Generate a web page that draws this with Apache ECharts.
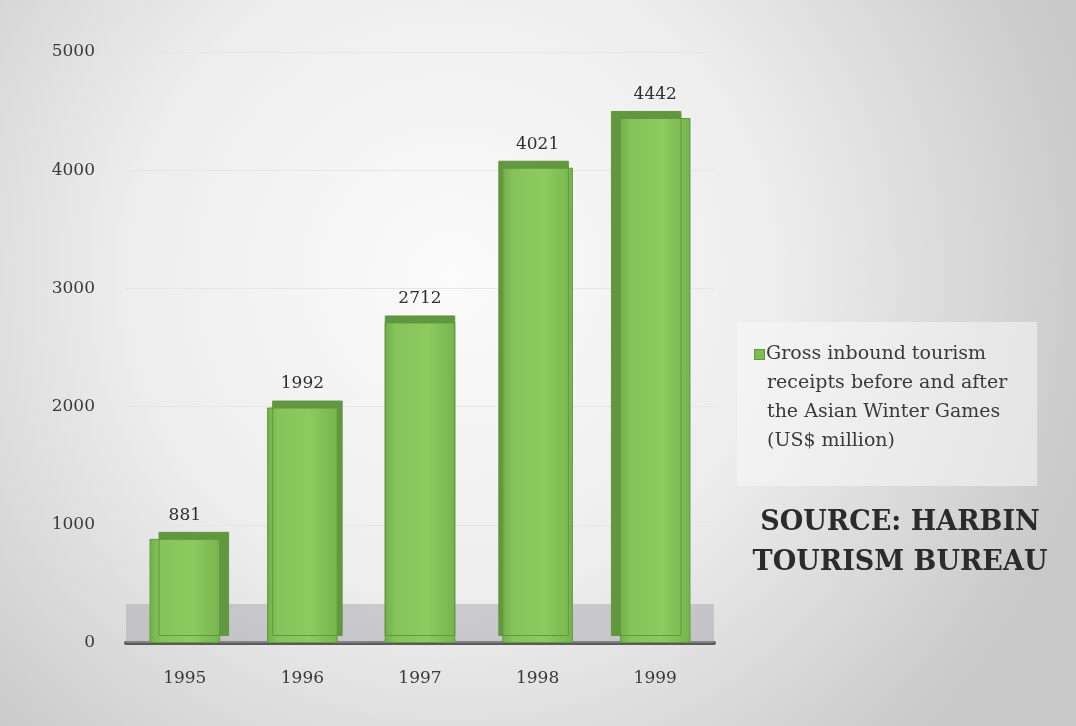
<!DOCTYPE html>
<html>
<head>
<meta charset="utf-8">
<script src="https://cdn.jsdelivr.net/npm/echarts@6/dist/echarts.min.js"></script>
<style>
html,body{margin:0;padding:0;background:#ddd;}
#chart{width:1076px;height:726px;}
</style>
</head>
<body>
<div id="chart"></div>
<script>
var years = ['1995', '1996', '1997', '1998', '1999'];
var receipts = [881, 1992, 2712, 4021, 4442];
var legendLines = ['Gross inbound tourism', 'receipts before and after', 'the Asian Winter Games', '(US$ million)'];
var sourceLines = ['SOURCE: HARBIN', 'TOURISM BUREAU'];
var floorBand = [0, 330];

var seriesName = legendLines.join(' ');
var serif = 'DejaVu Serif';
var green = '#7cbd52';

// perspective: side face shifts from right (left bars) to left (right bars)
var barData = receipts.map(function (v, i) {
  var mid = (receipts.length - 1) / 2;
  return {value: v, itemStyle: {shadowOffsetX: Math.round((mid - i) * 4.5)}};
});

var chart = echarts.init(document.getElementById('chart'));
chart.setOption({
  animation: false,
  backgroundColor: {
    type: 'radial', x: 0.42, y: 0.38, r: 0.9,
    colorStops: [
      {offset: 0, color: '#fbfbfb'},
      {offset: 0.5, color: '#ededed'},
      {offset: 1, color: '#c9c9c9'}
    ]
  },
  title: {
    text: sourceLines.join('\n'),
    left: 895, top: 498, textAlign: 'center',
    textStyle: {fontFamily: serif, fontWeight: 'bold', fontSize: 27, lineHeight: 40, color: '#2b2b2b'}
  },
  legend: {
    left: 737, top: 322,
    orient: 'vertical',
    backgroundColor: 'rgba(248,248,248,0.55)',
    padding: [18, 30, 30, 12],
    icon: 'rect', itemWidth: 0, itemHeight: 0, itemGap: 0,
    formatter: function () {
      return legendLines.map(function (l, i) {
        return (i === 0 ? '{sq|}' : '{gap|}') + '{t|' + l + '}';
      }).join('\n');
    },
    textStyle: {
      fontFamily: serif, fontSize: 19, lineHeight: 29, color: '#3a3a3a',
      rich: {
        sq: {width: 9, height: 9, backgroundColor: green, borderColor: '#5f9a3c', borderWidth: 1, padding: 0},
        gap: {width: 10},
        t: {fontFamily: serif, fontSize: 19, lineHeight: 29, color: '#3a3a3a', padding: [0, 0, 0, 2]}
      }
    }
  },
  grid: {left: 126, right: 362, top: 52, bottom: 83, containLabel: false},
  xAxis: {
    type: 'category',
    data: years,
    axisLine: {show: true, lineStyle: {color: '#5a5a5a', width: 4}},
    axisTick: {show: false},
    axisLabel: {fontFamily: serif, fontSize: 17, color: '#3a3a3a', margin: 27}
  },
  yAxis: {
    type: 'value', min: 0, max: 5000, interval: 1000,
    axisLine: {show: false},
    axisTick: {show: false},
    axisLabel: {fontFamily: serif, fontSize: 17, color: '#3a3a3a', margin: 31,
      formatter: function (v) { return String(v); }},
    splitLine: {show: true, lineStyle: {color: '#e6e6e6', width: 1}}
  },
  series: [{
    name: seriesName,
    type: 'bar',
    data: barData,
    barWidth: '60%',
    itemStyle: {
      color: {
        type: 'linear', x: 0, y: 0, x2: 1, y2: 0,
        colorStops: [
          {offset: 0, color: '#72b04a'},
          {offset: 0.15, color: '#86c25a'},
          {offset: 0.6, color: '#8ccb60'},
          {offset: 1, color: '#76b44d'}
        ]
      },
      borderColor: '#5f9a3c',
      borderWidth: 1,
      shadowColor: '#62973f',
      shadowBlur: 0,
      shadowOffsetY: -7
    },
    label: {
      show: true, position: 'top', distance: 15,
      fontFamily: serif, fontSize: 17, color: '#2f2f2f'
    },
    markArea: {
      silent: true,
      itemStyle: {color: 'rgba(165,165,175,0.5)'},
      data: [[{yAxis: floorBand[0]}, {yAxis: floorBand[1]}]]
    }
  }]
});
</script>
</body>
</html>
